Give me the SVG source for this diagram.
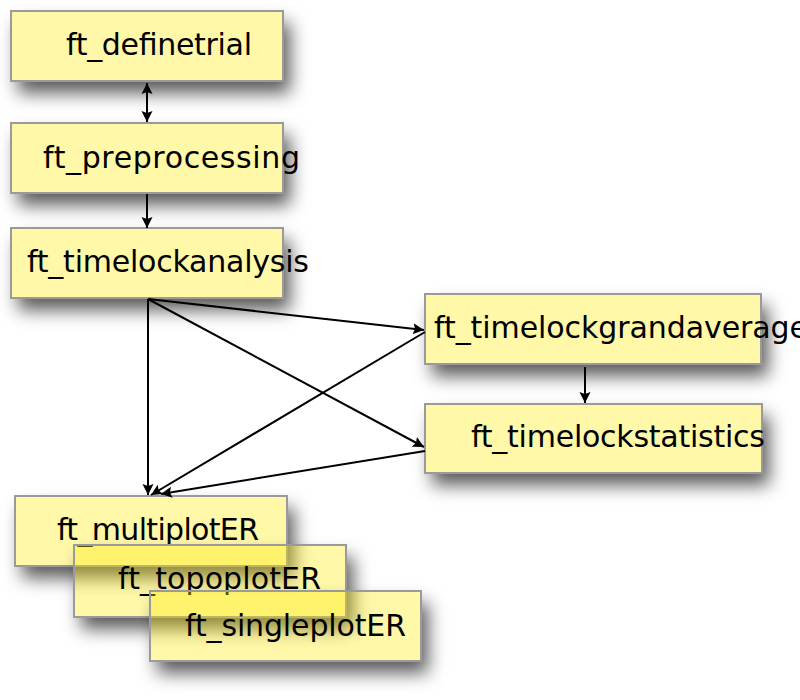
<svg xmlns="http://www.w3.org/2000/svg" width="800" height="700" viewBox="0 0 800 700">
<style>
.box{fill:rgb(255,234,0);fill-opacity:0.34;stroke:#9a9a9a;stroke-width:2}
.sh{fill:#000}
.lbl{font-family:"DejaVu Sans",sans-serif;font-size:30px;fill:#000}
.con{stroke:#000;stroke-width:2;fill:none}
</style>
<defs>
<filter id="shadow" x="-20%" y="-40%" width="160%" height="230%">
<feOffset in="SourceAlpha" dx="7" dy="12" result="o"/>
<feGaussianBlur in="o" stdDeviation="9" result="b"/>
<feComposite in="b" in2="SourceAlpha" operator="out" result="c"/>
<feFlood flood-color="#000" flood-opacity="0.65"/>
<feComposite in2="c" operator="in"/>
</filter>
<marker id="ah" viewBox="0 0 11 12" refX="11" refY="6" markerWidth="11" markerHeight="12" markerUnits="userSpaceOnUse" orient="auto-start-reverse">
<path d="M0,0.5 L11,6 L0,11.5 L2,6 z" fill="#000"/>
</marker>
</defs>
<rect width="800" height="700" fill="#fff"/>
<g id="ft_definetrial">
<rect class="sh" x="11" y="11" width="272" height="70" filter="url(#shadow)"/>
<rect class="box" x="11" y="11" width="272" height="70"/>
<text class="lbl" x="66" y="55" textLength="186">ft_definetrial</text>
</g>
<g id="ft_preprocessing">
<rect class="sh" x="11" y="123" width="272" height="70" filter="url(#shadow)"/>
<rect class="box" x="11" y="123" width="272" height="70"/>
<text class="lbl" x="43" y="168" textLength="257">ft_preprocessing</text>
</g>
<g id="ft_timelockanalysis">
<rect class="sh" x="11" y="228" width="272" height="70" filter="url(#shadow)"/>
<rect class="box" x="11" y="228" width="272" height="70"/>
<text class="lbl" x="27" y="272" textLength="282">ft_timelockanalysis</text>
</g>
<g id="ft_timelockgrandaverage">
<rect class="sh" x="425" y="294" width="336" height="70" filter="url(#shadow)"/>
<rect class="box" x="425" y="294" width="336" height="70"/>
<text class="lbl" x="434" y="338" textLength="374">ft_timelockgrandaverage</text>
</g>
<g id="ft_timelockstatistics">
<rect class="sh" x="425" y="404" width="337" height="69" filter="url(#shadow)"/>
<rect class="box" x="425" y="404" width="337" height="69"/>
<text class="lbl" x="471" y="447" textLength="294">ft_timelockstatistics</text>
</g>
<g id="ft_multiplotER">
<rect class="sh" x="15" y="496" width="272" height="70" filter="url(#shadow)"/>
<rect class="box" x="15" y="496" width="272" height="70"/>
<text class="lbl" x="57" y="540" textLength="202">ft_multiplotER</text>
</g>
<g id="ft_topoplotER">
<rect class="sh" x="74" y="545" width="272" height="72" filter="url(#shadow)"/>
<rect class="box" x="74" y="545" width="272" height="72"/>
<text class="lbl" x="118" y="589" textLength="203">ft_topoplotER</text>
</g>
<g id="ft_singleplotER">
<rect class="sh" x="150" y="591" width="271" height="70" filter="url(#shadow)"/>
<rect class="box" x="150" y="591" width="271" height="70"/>
<text class="lbl" x="185" y="636" textLength="221">ft_singleplotER</text>
</g>
<g id="connectors">
<path class="con" d="M147,83 L147,122" marker-start="url(#ah)" marker-end="url(#ah)"/>
<path class="con" d="M147,194 L147,228" marker-end="url(#ah)"/>
<path class="con" d="M148,299 L148,495" marker-end="url(#ah)"/>
<path class="con" d="M148,299 L424,330" marker-end="url(#ah)"/>
<path class="con" d="M148,299 L424,447" marker-end="url(#ah)"/>
<path class="con" d="M425,332 L151,495" marker-end="url(#ah)"/>
<path class="con" d="M425,451 L161,494" marker-end="url(#ah)"/>
<path class="con" d="M585,367 L585,403" marker-end="url(#ah)"/>
</g>
</svg>
